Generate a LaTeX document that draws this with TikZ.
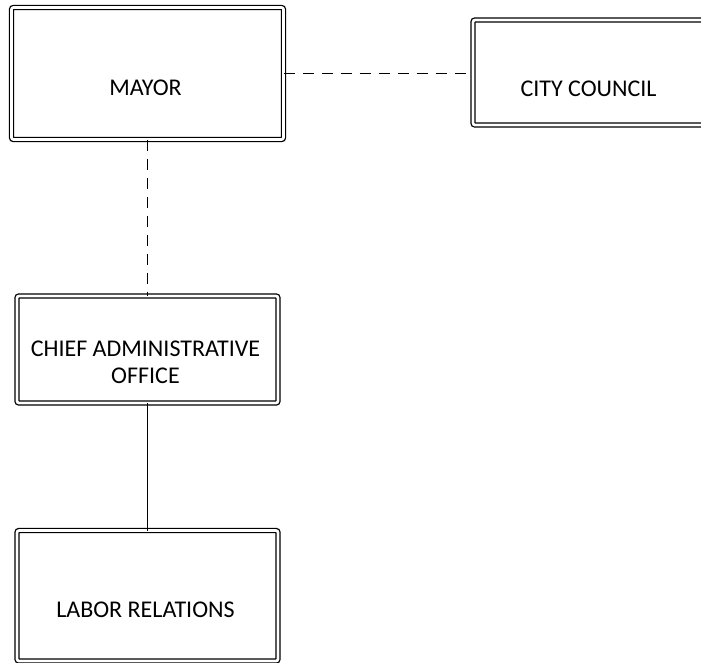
\documentclass[tikz,border=0pt]{standalone}
\usepackage{fontspec}
\setmainfont{Carlito}
\begin{document}
\begin{tikzpicture}[x=1pt,y=-1pt,
  orgbox/.style={draw, double, line width=1.3pt, double distance=2.7pt,
    rounded corners=2pt, rectangle, inner sep=0pt, outer sep=0pt},
  boxtext/.style={font=\fontsize{24}{27}\selectfont, align=center, inner sep=0pt},
  link/.style={line width=1.5pt},
  dashlink/.style={link, dash pattern=on 11pt off 8pt}]
\clip (0,0) rectangle (701,662);
\fill[white] (0,0) rectangle (701,662);

% boxes
\node[orgbox, minimum width=272pt, minimum height=132pt] (mayor) at (147.5,73.5) {};
\node[orgbox, minimum width=231pt, minimum height=105pt] (council) at (588.5,72.5) {};
\node[orgbox, minimum width=261pt, minimum height=107pt] (cao) at (147.5,349.5) {};
\node[orgbox, minimum width=261pt, minimum height=130.5pt] (labor) at (147.5,595.75) {};

% labels
\node[boxtext] (mayor-t) at ([shift={(-2,14.5)}]mayor.center) {MAYOR};
\node[boxtext] (council-t) at ([shift={(0,16)}]council.center) {CITY COUNCIL};
\node[boxtext] (cao-t) at ([shift={(-2,13)}]cao.center) {CHIEF ADMINISTRATIVE\\OFFICE};
\node[boxtext] (labor-t) at ([shift={(-2,14)}]labor.center) {LABOR RELATIONS};

% connectors
\draw[dashlink] (mayor.east) -- (mayor.east -| council.west);
\draw[dashlink] (mayor.south) -- (cao.north);
\draw[link] (cao.south) -- (labor.north);
\end{tikzpicture}
\end{document}
